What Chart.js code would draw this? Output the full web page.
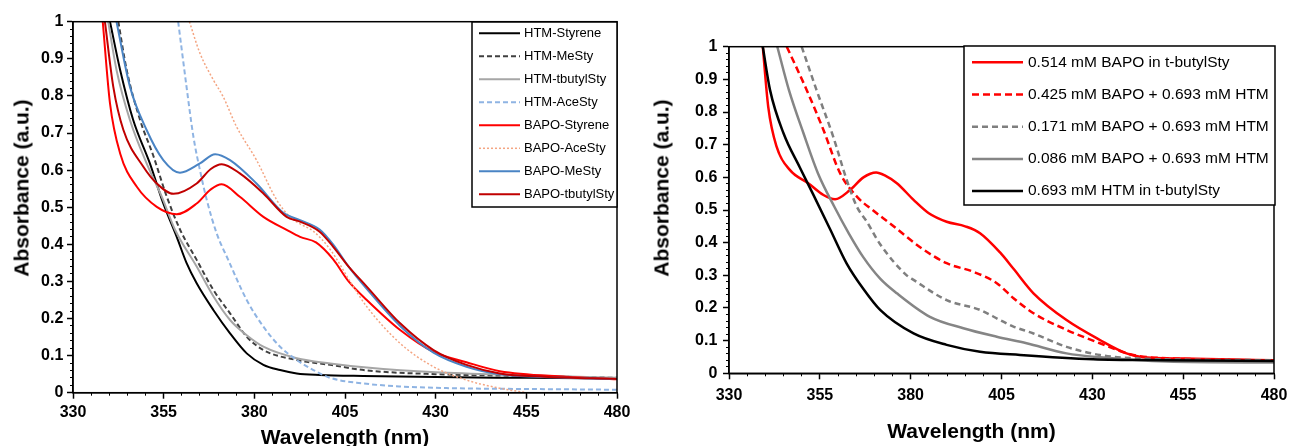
<!DOCTYPE html>
<html>
<head>
<meta charset="utf-8">
<script src="https://cdn.jsdelivr.net/npm/chart.js@4.4.1/dist/chart.umd.min.js"></script>
<style>
  html, body { margin: 0; padding: 0; background: #fff; }
  body { width: 1289px; height: 446px; position: relative; overflow: hidden; font-family: 'Liberation Sans', Arial, sans-serif; }
  .panel { position: absolute; top: 0; height: 446px; }
  #leftPanel { left: 0; width: 640px; }
  #rightPanel { left: 640px; width: 649px; }
  .title { position: absolute; font-weight: bold; font-size: 21px; line-height: 1; white-space: nowrap; color: #000; transform: translate(-50%, -50%); }
  .ytitle { transform: translate(-50%, -50%) rotate(-90deg); }
</style>
</head>
<body>
<div class="panel" id="leftPanel"><canvas id="leftChart"></canvas></div>
<div class="panel" id="rightPanel"><canvas id="rightChart"></canvas></div>
<div class="title ytitle" style="left:21px; top:187.5px">Absorbance (a.u.)</div>
<div class="title" style="left:345px; top:435.6px">Wavelength (nm)</div>
<div class="title ytitle" style="left:661px; top:188px">Absorbance (a.u.)</div>
<div class="title" style="left:971.5px; top:429.6px">Wavelength (nm)</div>

<script>
// left panel: HTM and BAPO in the different styrenes
const htmStyreneWl = [340.2, 343, 346.6, 351.2, 354.9, 358.6, 361.3, 364.1, 368.7, 373.3, 377.9, 382.5, 387.1, 391.7, 398, 410, 430, 455, 480]
const htmStyreneAbs = [1.0, 0.87, 0.735, 0.618, 0.51, 0.42, 0.35, 0.295, 0.223, 0.16, 0.106, 0.075, 0.061, 0.052, 0.048, 0.045, 0.042, 0.04, 0.038]

const htmMeStyWl = [342.5, 344.8, 348.5, 352.1, 355.8, 359.5, 364.1, 368.7, 373.3, 377.9, 382.5, 391.7, 400.9, 411, 430, 455, 480]
const htmMeStyAbs = [1.0, 0.87, 0.735, 0.64, 0.53, 0.44, 0.358, 0.277, 0.214, 0.151, 0.115, 0.088, 0.075, 0.06, 0.05, 0.045, 0.04]

const htmTbutylWl = [339.7, 342, 345.7, 350.3, 354.5, 358.1, 364.1, 368.7, 373.3, 377.9, 382.5, 391.7, 400.9, 411, 430, 455, 480]
const htmTbutylAbs = [1.0, 0.87, 0.735, 0.618, 0.528, 0.44, 0.34, 0.26, 0.196, 0.155, 0.124, 0.093, 0.079, 0.068, 0.055, 0.047, 0.04]

const htmAceWl = [359, 361.3, 363.2, 365, 366.9, 369.6, 372.8, 377.9, 382.5, 387.1, 391.7, 396.3, 400.9, 410, 420, 435, 455, 480]
const htmAceAbs = [1.0, 0.825, 0.69, 0.6, 0.519, 0.43, 0.358, 0.25, 0.178, 0.124, 0.088, 0.061, 0.04, 0.025, 0.017, 0.012, 0.01, 0.008]

const bapoStyreneWl = [338.2, 340.2, 343, 347.6, 353.1, 358.6, 364.1, 368, 371, 376, 382.5, 388.9, 392.6, 397, 401.7, 406, 411, 420.2, 429.4, 438.5, 447.7, 466, 480]
const bapoStyreneAbs = [1.0, 0.78, 0.645, 0.555, 0.501, 0.481, 0.51, 0.548, 0.562, 0.528, 0.474, 0.439, 0.42, 0.405, 0.36, 0.3, 0.25, 0.169, 0.11, 0.082, 0.058, 0.043, 0.036]

const bapoAceWl = [362.1, 365, 368.7, 371.4, 375.1, 380.6, 386.2, 389.8, 392.6, 396.3, 401, 406.4, 411, 420.2, 429.4, 438.5, 447.7, 455]
const bapoAceAbs = [1.0, 0.915, 0.843, 0.798, 0.717, 0.627, 0.519, 0.474, 0.455, 0.435, 0.385, 0.3, 0.232, 0.133, 0.07, 0.034, 0.012, 0.0]

const bapoMeStyWl = [342, 345.7, 350.3, 354.9, 359.5, 365, 369.2, 373.3, 380.6, 388, 392.6, 398, 401.7, 406, 411, 420.2, 429.4, 438.5, 447.7, 460, 480]
const bapoMeStyAbs = [1.0, 0.825, 0.708, 0.627, 0.593, 0.618, 0.643, 0.627, 0.564, 0.485, 0.465, 0.44, 0.4, 0.34, 0.28, 0.18, 0.108, 0.07, 0.05, 0.042, 0.037]

const bapoTbutylWl = [338.8, 341.1, 343.9, 349.4, 353.1, 357.7, 364.1, 368, 371, 376, 382.5, 388.9, 392.6, 398, 401.7, 406, 411, 420.2, 429.4, 438.5, 447.7, 460, 480]
const bapoTbutylAbs = [1.0, 0.825, 0.708, 0.609, 0.564, 0.536, 0.564, 0.603, 0.616, 0.591, 0.537, 0.474, 0.461, 0.434, 0.394, 0.34, 0.286, 0.187, 0.115, 0.075, 0.052, 0.043, 0.037]

// right panel: BAPO / HTM mixtures in t-butylSty
const bapo514Wl = [339.3, 340.8, 343.1, 346.8, 351.8, 356, 359.2, 363.3, 367, 370.5, 373, 376.2, 380.8, 385, 389.9, 395, 399.1, 404.6, 408.3, 413.8, 422.9, 432.1, 439.4, 443.5, 455, 470, 480]
const bapo514Abs = [1.0, 0.816, 0.694, 0.622, 0.582, 0.546, 0.533, 0.561, 0.6, 0.615, 0.605, 0.582, 0.531, 0.49, 0.464, 0.45, 0.429, 0.37, 0.32, 0.245, 0.163, 0.102, 0.061, 0.05, 0.045, 0.042, 0.04]

const bapo425Wl = [345.9, 351.4, 356, 360.6, 365.2, 369.5, 374.3, 383, 389.9, 397.2, 403.7, 408.3, 413.8, 422.9, 432.1, 441.3, 450.5, 468]
const bapo425Abs = [1.0, 0.867, 0.745, 0.612, 0.541, 0.5, 0.459, 0.383, 0.337, 0.311, 0.276, 0.23, 0.184, 0.133, 0.092, 0.056, 0.046, 0.042]

const bapo171Wl = [350, 354.1, 358.7, 362.4, 365.2, 367.9, 371.6, 378.9, 380.8, 389.9, 399.1, 404.6, 408.3, 413.8, 422.9, 432.1, 441.3, 455, 480]
const bapo171Abs = [1.0, 0.867, 0.724, 0.592, 0.51, 0.465, 0.395, 0.3, 0.286, 0.224, 0.194, 0.163, 0.143, 0.122, 0.081, 0.056, 0.046, 0.042, 0.04]

const bapo086Wl = [343.3, 346.5, 350.5, 354.5, 359, 363, 367, 371.6, 376.2, 385.3, 394.5, 403.7, 411.9, 422.9, 432.1, 450.5, 480]
const bapo086Abs = [1.0, 0.867, 0.735, 0.612, 0.51, 0.428, 0.355, 0.29, 0.245, 0.173, 0.138, 0.112, 0.092, 0.061, 0.049, 0.036, 0.033]

const htmOnlyWl = [339.3, 341.3, 345, 349.5, 353.2, 357.8, 362.4, 367, 371.6, 380.8, 389.9, 399.1, 410.1, 430.2, 450, 480]
const htmOnlyAbs = [1.0, 0.867, 0.735, 0.63, 0.547, 0.442, 0.336, 0.258, 0.194, 0.122, 0.087, 0.066, 0.056, 0.043, 0.04, 0.038]

Chart.defaults.font.family = "'Liberation Sans', Arial, sans-serif"
Chart.defaults.color = '#000'

function series(label, wl, abs, color, width, dash) {
  return {
    label: label,
    data: wl.map((x, i) => ({ x: x, y: abs[i] })),
    borderColor: color,
    borderWidth: width,
    borderDash: dash || [],
    pointRadius: 0,
    fill: false,
    cubicInterpolationMode: 'monotone',
  }
}

// box round the plot area
const frame = {
  id: 'frame',
  afterDatasetsDraw(chart) {
    const { ctx, chartArea: a } = chart
    ctx.save()
    ctx.strokeStyle = '#000'
    ctx.lineWidth = 1.5
    ctx.strokeRect(a.left, a.top, a.right - a.left, a.bottom - a.top)
    ctx.restore()
  },
}

// legend drawn as a boxed list inside the plot
const boxLegend = {
  id: 'boxLegend',
  afterDraw(chart, args, o) {
    const ctx = chart.ctx
    ctx.save()
    ctx.fillStyle = '#fff'
    ctx.fillRect(o.left, o.top, o.width, o.height)
    ctx.strokeStyle = '#000'
    ctx.lineWidth = 1.5
    ctx.strokeRect(o.left, o.top, o.width, o.height)
    ctx.font = o.font
    ctx.textBaseline = 'middle'
    chart.data.datasets.forEach((ds, i) => {
      const y = o.rowStart + i * o.rowStep
      ctx.beginPath()
      ctx.setLineDash(ds.borderDash)
      ctx.strokeStyle = ds.borderColor
      ctx.lineWidth = ds.borderWidth
      ctx.moveTo(o.lineX1, y)
      ctx.lineTo(o.lineX2, y)
      ctx.stroke()
      ctx.setLineDash([])
      ctx.fillStyle = '#000'
      ctx.fillText(ds.label, o.textX, y)
    })
    ctx.restore()
  },
}

function buildScales(s) {
  const tickFont = { size: 16, weight: 'bold' }
  return {
    x: {
      type: 'linear', position: 'bottom', weight: 1, min: 330, max: 480,
      // fixed height; end labels may hang into the margin
      afterFit: (axis) => { axis.height = s.xHeight; axis.paddingLeft = 0; axis.paddingRight = 0 },
      ticks: { stepSize: 25, padding: s.xPad, font: tickFont, maxRotation: 0, autoSkip: false },
      grid: { drawOnChartArea: false, tickLength: 6, tickColor: '#000', tickWidth: 1.5 },
      border: { color: '#000', width: 1.5 },
    },
    xMinor: {
      type: 'linear', position: 'bottom', weight: 0, min: 330, max: 480,
      afterFit: (axis) => { axis.height = 0 },
      ticks: { stepSize: 5, display: false },
      grid: { drawOnChartArea: false, tickLength: 3, tickColor: '#000', tickWidth: 1 },
      border: { display: false },
    },
    y: {
      type: 'linear', position: 'left', weight: 1, min: 0, max: 1,
      afterFit: (axis) => { axis.width = s.yWidth },
      ticks: {
        stepSize: 0.1, padding: s.yPad, font: tickFont, autoSkip: false,
        callback: (v) => String(Number(v.toFixed(1))),
      },
      grid: { drawOnChartArea: false, tickLength: 6, tickColor: '#000', tickWidth: 1.5 },
      border: { color: '#000', width: 1.5 },
    },
    yMinor: {
      type: 'linear', position: 'left', weight: 0, min: 0, max: 1,
      afterFit: (axis) => { axis.width = 0 },
      ticks: { stepSize: 0.02, display: false },
      grid: { drawOnChartArea: false, tickLength: 3, tickColor: '#000', tickWidth: 1 },
      border: { display: false },
    },
  }
}

function makeChart(id, datasets, pad, s, legend) {
  // later series drawn on top, as in the original
  datasets.forEach((ds, i) => { ds.order = datasets.length - i })
  return new Chart(document.getElementById(id), {
    type: 'line',
    data: { datasets: datasets },
    options: {
      responsive: true,
      maintainAspectRatio: false,
      animation: false,
      layout: { padding: pad },
      scales: buildScales(s),
      plugins: { legend: { display: false }, tooltip: { enabled: false }, boxLegend: legend },
    },
    plugins: [frame, boxLegend],
  })
}

makeChart('leftChart', [
  series('HTM-Styrene', htmStyreneWl, htmStyreneAbs, '#000000', 2),
  series('HTM-MeSty', htmMeStyWl, htmMeStyAbs, '#404040', 2, [5, 3]),
  series('HTM-tbutylSty', htmTbutylWl, htmTbutylAbs, '#a6a6a6', 2),
  series('HTM-AceSty', htmAceWl, htmAceAbs, '#8fb4e3', 2, [5, 3]),
  series('BAPO-Styrene', bapoStyreneWl, bapoStyreneAbs, '#ff0000', 2),
  series('BAPO-AceSty', bapoAceWl, bapoAceAbs, '#f4a582', 1.5, [2, 2]),
  series('BAPO-MeSty', bapoMeStyWl, bapoMeStyAbs, '#4a84c4', 2),
  series('BAPO-tbutylSty', bapoTbutylWl, bapoTbutylAbs, '#c00000', 2),
], { top: 21.7, right: 23, left: 0, bottom: 0 },
{ xHeight: 53.3, yWidth: 73, xPad: 4.5, yPad: 3.7 },
{ left: 472, top: 22, width: 145, height: 185, rowStart: 33.3, rowStep: 23, lineX1: 479, lineX2: 520, textX: 524, font: "13px 'Liberation Sans', Arial, sans-serif" })

makeChart('rightChart', [
  series('0.514 mM BAPO in t-butylSty', bapo514Wl, bapo514Abs, '#ff0000', 2.5),
  series('0.425 mM BAPO + 0.693 mM HTM', bapo425Wl, bapo425Abs, '#ff0000', 2.5, [7, 4]),
  series('0.171 mM BAPO + 0.693 mM HTM', bapo171Wl, bapo171Abs, '#7f7f7f', 2.5, [6, 4]),
  series('0.086 mM BAPO + 0.693 mM HTM', bapo086Wl, bapo086Abs, '#858585', 2.5),
  series('0.693 mM HTM in t-butylSty', htmOnlyWl, htmOnlyAbs, '#000000', 2.5),
], { top: 46.7, right: 15, left: 0, bottom: 0 },
{ xHeight: 72.7, yWidth: 89, xPad: 7, yPad: 5.7 },
{ left: 324, top: 46, width: 311, height: 159, rowStart: 62.3, rowStep: 32.2, lineX1: 332, lineX2: 383, textX: 388, font: "15.5px 'Liberation Sans', Arial, sans-serif" })
</script>
</body>
</html>
